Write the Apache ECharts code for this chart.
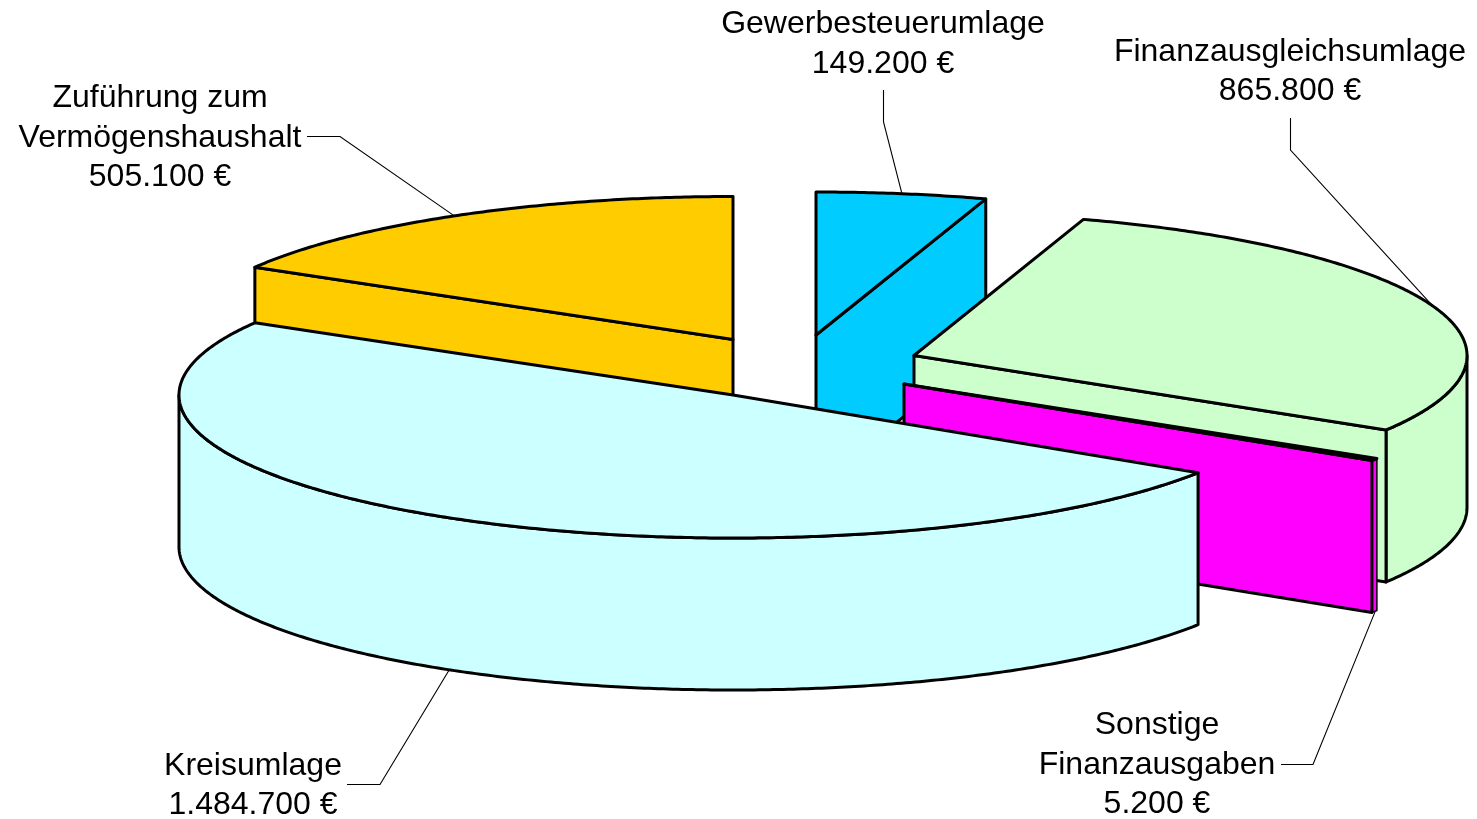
<!DOCTYPE html>
<html><head><meta charset="utf-8">
<style>html,body{margin:0;padding:0;background:#fff}#c{width:1477px;height:819px}</style>
<script src="https://cdn.jsdelivr.net/npm/echarts@6/dist/echarts.min.js"></script>
</head><body><div id="c"></div>
<script>
// Data
const categories = ['Gewerbesteuerumlage', 'Finanzausgleichsumlage', 'Sonstige\nFinanzausgaben', 'Kreisumlage', 'Zuführung zum\nVermögenshaushalt'];
const values = [149200, 865800, 5200, 1484700, 505100];

// Layout and style (not data)
const colors = ['#00CCFF', '#CCFFCC', '#FF00FF', '#CCFFFF', '#FFCC00'];
const RY = 143, DEPTH = 152, LINE = 3;
const radiiX = [554, 553, 554, 554, 554];
const centers = [[816, 335], [914, 355.5], [904, 384], [733, 395], [733, 339.5]];
const edgeNudge = [[0, 0], [0, 0], [0, 0.35], [0.9, 0.75], [0.75, 0]];
const paintRank = [1, 2, 3, 4, 0];
const labelAnchors = [[883, 42], [1290, 69.5], [1157, 763], [253, 783.5], [160, 136]];
const LINE_H = 39.5, TEXT_DY = 2;
const labelElbows = [
  [[883.5, 90], [883.5, 122]],
  [[1290.5, 118], [1290.5, 150]],
  [[1281, 764.5], [1313, 764.5]],
  [[347, 784.5], [380, 784.5]],
  [[307, 136.5], [340, 136.5]]
];

const total = values.reduce((a, b) => a + b, 0);
let acc = 0;
const sweeps = values.map(v => { const s = [acc, acc + v / total * 360]; acc = s[1]; return s; });
const fmt = v => String(v).replace(/\B(?=(\d{3})+$)/g, '.') + ' €';
const rad = d => d * Math.PI / 180;

function renderItem(params) {
  const i = params.dataIndex, c = centers[i], rank = paintRank[i] * 10, RX = radiiX[i];
  const s = [sweeps[i][0] + edgeNudge[i][0], sweeps[i][1] + edgeNudge[i][1]];
  const rim = (t, drop) => [c[0] + RX * Math.sin(rad(t)), c[1] - RY * Math.cos(rad(t)) + (drop || 0)];
  const arc = (a, b, drop) => {
    const n = Math.max(2, Math.ceil(Math.abs(b - a) * 2)), pts = [];
    for (let k = 0; k <= n; k++) pts.push(rim(a + (b - a) * k / n, drop));
    return pts;
  };
  const low = [c[0], c[1] + DEPTH];
  const style = { fill: colors[i], stroke: '#000', lineWidth: LINE, lineJoin: 'round' };
  const poly = (points, z, lw) => ({ type: 'polygon', shape: { points },
    style: lw ? Object.assign({}, style, { lineWidth: lw }) : style, z2: rank + z });
  const kids = [];
  // radial faces that look towards the viewer
  if (Math.sin(rad(s[0])) < -1e-6) kids.push(poly([c, rim(s[0]), rim(s[0], DEPTH), low], 1));
  if (Math.sin(rad(s[1])) > 1e-6) kids.push(poly([c, rim(s[1]), rim(s[1], DEPTH), low], 3));
  // outer wall: only the front half of the rim is seen
  const a = Math.max(s[0], 90), b = Math.min(s[1], 270);
  const narrow = b - a < 2;
  if (b > a) kids.push(poly(arc(a, b).concat(arc(b, a, DEPTH)), 2, narrow ? 1.5 : 0));
  // top face
  kids.push(poly([c].concat(arc(s[0], s[1])), 4));

  // leader line and label
  const mid = (sweeps[i][0] + sweeps[i][1]) / 2;
  const end = rim(mid, mid > 90 && mid < 270 ? DEPTH : 0);
  kids.push({ type: 'polyline', shape: { points: labelElbows[i].concat([end]) },
    style: { fill: null, stroke: '#000', lineWidth: 1.1 }, z2: 100 });
  const lines = categories[i].split('\n').concat([fmt(values[i])]);
  const la = labelAnchors[i], y0 = la[1] + TEXT_DY - (lines.length - 1) * LINE_H / 2;
  lines.forEach((t, k) => kids.push({ type: 'text', z2: 101,
    style: { text: t, x: la[0], y: y0 + k * LINE_H, align: 'center', verticalAlign: 'middle',
      font: '32px "Liberation Sans", Arial, sans-serif', fill: '#000' } }));
  return { type: 'group', children: kids };
}

const chart = echarts.init(document.getElementById('c'), null, { renderer: 'canvas' });
chart.setOption({
  animation: false,
  backgroundColor: '#fff',
  series: [{
    type: 'custom',
    coordinateSystem: 'none',
    clip: false,
    renderItem,
    data: values.map((v, i) => ({ name: categories[i], value: v }))
  }]
});
</script></body></html>
